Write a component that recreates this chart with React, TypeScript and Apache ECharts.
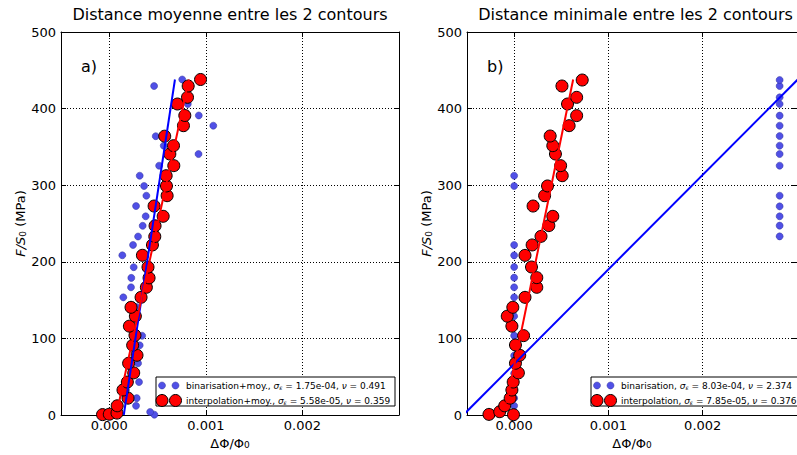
import React, { useEffect, useRef } from "react";
import * as echarts from "echarts";

const FONT = "DejaVu Sans";

// ---------- axis ranges ----------
const X_MIN = -0.0005;
const X_MAX = 0.003;
const Y_MIN = 0;
const Y_MAX = 500;
const Y_STEP = 100;

// ---------- panel a : Distance moyenne ----------
const aBinY = [0.4, 4, 12, 22, 32.6, 43, 54.4, 67.5, 77.5, 91, 103.5, 116.6, 129, 141, 153.6, 166.7, 179, 193, 208.5, 222, 233, 247, 259.4, 272.8, 286.3, 299, 312.4, 325.5, 340.7, 351.6, 364, 377.7, 391, 406, 414.7, 429.5, 438];
const aBinX = [0.000467, 0.000423, 0.000277, 0.000284, 0.00014, 0.000308, 0.00025, 0.000298, 0.00029, 0.000315, 0.00034, 0.00021, 0.00026, 0.00028, 0.000145, 0.000225, 0.000228, 0.000253, 0.000135, 0.000246, 0.000298, 0.000346, 0.000377, 0.000277, 0.000384, 0.00036, 0.000315, 0.000516, 0.000924, 0.000564, 0.000481, 0.001077, 0.000927, 0.000813, 0.0008, 0.000464, 0.000755];
const aIntY = [0.5, 1, 2.5, 12, 22, 32.6, 43, 55, 67.5, 78, 91, 104, 116, 129, 140.6, 153.6, 166.7, 179, 193, 208.5, 222, 233, 247, 259.4, 272.8, 286.3, 299, 312.4, 325.5, 340.7, 351.6, 364, 377.7, 391, 406, 414.7, 429.5, 438];
const aIntX = [-0.00007, 0.0, 0.00008, 0.000082, 0.000194, 0.000142, 0.000187, 0.000253, 0.0002, 0.000287, 0.000242, 0.000266, 0.000208, 0.00027, 0.000225, 0.000329, 0.000384, 0.000412, 0.000401, 0.000343, 0.000447, 0.000471, 0.000474, 0.000558, 0.000464, 0.000599, 0.000592, 0.000589, 0.000668, 0.000627, 0.000665, 0.000574, 0.000768, 0.000782, 0.000706, 0.00081, 0.000817, 0.000945];
const aBinFitX = [0.00015, 0.00068];
const aBinFitY = [0, 438];
const aIntFitX = [0.0001, 0.000824];
const aIntFitY = [16, 438];

// ---------- panel b : Distance minimale ----------
const bBinY = [0.4, 4, 12, 22, 32.6, 43, 54.4, 67.5, 77.5, 91, 103.6, 116.6, 129, 141, 153.6, 166.7, 179.3, 193.2, 208.4, 222, 299, 312.4, 233.2, 247.2, 259.4, 272.4, 286.3, 325.5, 340.7, 351.6, 364.2, 377.7, 390.8, 406, 414.7, 429.5, 437.3];
const bBinX = [0, 0, 0, 0, 0, 0, 0, 0, 0, 0, 0, 0, 0, 0, 0, 0, 0, 0, 0, 0, 0, 0, 0.002816, 0.002816, 0.002816, 0.002816, 0.002816, 0.002816, 0.002816, 0.002816, 0.002816, 0.002816, 0.002816, 0.002816, 0.002816, 0.002816, 0.002816];
const bIntY = [0.8, 0.4, 4.3, 12, 22, 32.6, 43, 55, 67.5, 78, 91.4, 103.6, 116, 129, 140.6, 153.6, 166.7, 179.3, 193.2, 208.4, 222, 233.2, 247.2, 259.4, 272.8, 286.3, 299, 312.4, 325.5, 340.7, 351.6, 364.2, 377.7, 390.8, 406, 414.7, 429.5, 437.3];
const bIntX = [-0.000267, -0.000007, -0.000153, -0.0001, -0.000042, -0.000024, -0.00001, 0.000045, 0.000014, 0.000059, 0.000014, 0.0001, -0.000024, -0.000073, -0.000014, 0.000115, 0.00024, 0.00024, 0.000184, 0.000115, 0.000191, 0.000285, 0.000368, 0.00041, 0.000201, 0.000323, 0.000354, 0.00051, 0.000493, 0.000438, 0.00041, 0.000382, 0.000583, 0.000663, 0.000566, 0.000663, 0.000507, 0.000722];
const bBinFitX = [-0.00054, 0.003008];
const bBinFitY = [0, 438];
const bIntFitX = [-0.00008, 0.000626];
const bIntFitY = [16, 438];

// ---------- texts ----------
const titles = ["Distance moyenne entre les 2 contours", "Distance minimale entre les 2 contours"];
const panelTags = ["a)", "b)"];
const legendA = [
  "binarisation+moy., {i|σ}{s|ε}{n| = 1.75e-04, }{i|ν}{n| = 0.491}",
  "interpolation+moy., {i|σ}{s|ε}{n| = 5.58e-05, }{i|ν}{n| = 0.359}",
];
const legendB = [
  "binarisation, {i|σ}{s|ε}{n| = 8.03e-04, }{i|ν}{n| = 2.374}",
  "interpolation, {i|σ}{s|ε}{n| = 7.85e-05, }{i|ν}{n| = 0.376}",
];

const BLUE_PT = "#5050e6";
const BLUE_EDGE = "#30309a";
const RED_PT = "#ff0000";
const LEG_FS = 9;

const zip = (xs: number[], ys: number[]) => xs.map((x, i) => [x, ys[i]]);

// layout (pixels)
const GRIDS = [
  { left: 61, top: 32, width: 338, height: 383 },
  { left: 467, top: 32, width: 337, height: 383 },
];

const legRich = {
  n: { fontSize: LEG_FS, fontFamily: FONT, fill: "#000" },
  i: { fontSize: LEG_FS, fontFamily: FONT, fontStyle: "italic", fill: "#000" },
  s: { fontSize: 6, fontFamily: FONT, fontStyle: "italic", fill: "#000", verticalAlign: "bottom" },
};

function legendGroup(x0: number, y0: number, w: number, texts: string[]) {
  const h = 29;
  const r1 = 3.5;
  const r2 = 6;
  const m1 = x0 + 6;
  const m2 = x0 + 19.5;
  const tx = x0 + 30;
  const l1 = y0 + 8.5;
  const l2 = y0 + 23.5;
  return [
    { type: "rect", z: 100, shape: { x: x0, y: y0, width: w, height: h }, style: { fill: "#fff", stroke: "#000", lineWidth: 1 } },
    { type: "circle", z: 101, shape: { cx: m1, cy: l1, r: r1 }, style: { fill: BLUE_PT, stroke: BLUE_EDGE, lineWidth: 0.5 } },
    { type: "circle", z: 101, shape: { cx: m2, cy: l1, r: r1 }, style: { fill: BLUE_PT, stroke: BLUE_EDGE, lineWidth: 0.5 } },
    { type: "circle", z: 101, shape: { cx: m1, cy: l2, r: r2 }, style: { fill: RED_PT, stroke: "#000", lineWidth: 1 } },
    { type: "circle", z: 101, shape: { cx: m2, cy: l2, r: r2 }, style: { fill: RED_PT, stroke: "#000", lineWidth: 1 } },
    { type: "text", z: 101, x: tx, y: l1, style: { text: texts[0], fontSize: LEG_FS, fontFamily: FONT, fill: "#000", verticalAlign: "middle", align: "left", rich: legRich } },
    { type: "text", z: 101, x: tx, y: l2, style: { text: texts[1], fontSize: LEG_FS, fontFamily: FONT, fill: "#000", verticalAlign: "middle", align: "left", rich: legRich } },
  ];
}

function xAxisDef(gridIndex: number, position: "bottom" | "top") {
  const main = position === "bottom";
  return {
    type: "value",
    gridIndex,
    position,
    min: X_MIN,
    max: X_MAX,
    splitNumber: 4,
    axisLine: { show: true, onZero: false, lineStyle: { color: "#000", width: 1 } },
    axisTick: { show: true, inside: true, length: 5, lineStyle: { color: "#000", width: 1 } },
    axisLabel: {
      show: main,
      showMinLabel: false,
      showMaxLabel: false,
      formatter: (v: number) => v.toFixed(3),
      color: "#000",
      fontSize: 13,
      fontFamily: FONT,
      margin: 4,
    },
    splitLine: { show: main, lineStyle: { color: "#000", width: 1, type: [1, 2] } },
    name: main ? "{n|ΔΦ/Φ}{s|0}" : "",
    nameLocation: "middle",
    nameGap: 20,
    nameTextStyle: {
      color: "#000",
      fontSize: 13,
      fontFamily: FONT,
      rich: {
        n: { fontSize: 13, fontFamily: FONT, color: "#000" },
        s: { fontSize: 9, fontFamily: FONT, color: "#000", verticalAlign: "bottom" },
      },
    },
  };
}

function yAxisDef(gridIndex: number, position: "left" | "right") {
  const main = position === "left";
  return {
    type: "value",
    gridIndex,
    position,
    min: Y_MIN,
    max: Y_MAX,
    interval: Y_STEP,
    axisLine: { show: true, onZero: false, lineStyle: { color: "#000", width: 1 } },
    axisTick: { show: true, inside: true, length: 5, lineStyle: { color: "#000", width: 1 } },
    axisLabel: { show: main, color: "#000", fontSize: 13, fontFamily: FONT, margin: 5 },
    splitLine: { show: main, lineStyle: { color: "#000", width: 1, type: [1, 2] } },
    name: main ? "{i|F/S}{s|0}{n| (MPa)}" : "",
    nameLocation: "middle",
    nameRotate: 90,
    nameGap: 33,
    nameTextStyle: {
      color: "#000",
      fontSize: 13,
      fontFamily: FONT,
      rich: {
        i: { fontSize: 13, fontFamily: FONT, fontStyle: "italic", color: "#000" },
        n: { fontSize: 13, fontFamily: FONT, color: "#000" },
        s: { fontSize: 9, fontFamily: FONT, color: "#000", verticalAlign: "bottom" },
      },
    },
  };
}

function panelSeries(p: number, binX: number[], binY: number[], intX: number[], intY: number[], bfX: number[], bfY: number[], ifX: number[], ifY: number[]) {
  const xi = p * 2;
  const yi = p * 2;
  return [
    {
      type: "scatter",
      xAxisIndex: xi,
      yAxisIndex: yi,
      data: zip(binX, binY),
      symbol: "circle",
      symbolSize: 7,
      itemStyle: { color: BLUE_PT, borderColor: BLUE_EDGE, borderWidth: 0.5, opacity: 1 },
      silent: true,
    },
    {
      type: "line",
      xAxisIndex: xi,
      yAxisIndex: yi,
      data: zip(bfX, bfY),
      showSymbol: false,
      symbol: "none",
      clip: true,
      lineStyle: { color: "#0000ff", width: 2 },
      silent: true,
    },
    {
      type: "scatter",
      xAxisIndex: xi,
      yAxisIndex: yi,
      data: zip(intX, intY),
      symbol: "circle",
      symbolSize: 12,
      itemStyle: { color: RED_PT, borderColor: "#000", borderWidth: 1, opacity: 1 },
      silent: true,
    },
    {
      type: "line",
      xAxisIndex: xi,
      yAxisIndex: yi,
      data: zip(ifX, ifY),
      showSymbol: false,
      symbol: "none",
      clip: true,
      lineStyle: { color: "#ff0000", width: 2 },
      silent: true,
    },
  ];
}

export default function App() {
  const ref = useRef<HTMLDivElement>(null);

  useEffect(() => {
    if (!ref.current) return;
    const chart = echarts.init(ref.current, undefined, { renderer: "svg" });
    const option: any = {
      animation: false,
      backgroundColor: "#ffffff",
      grid: GRIDS.map((g) => ({ ...g, containLabel: false })),
      xAxis: [xAxisDef(0, "bottom"), xAxisDef(0, "top"), xAxisDef(1, "bottom"), xAxisDef(1, "top")],
      yAxis: [yAxisDef(0, "left"), yAxisDef(0, "right"), yAxisDef(1, "left"), yAxisDef(1, "right")],
      series: [
        ...panelSeries(0, aBinX, aBinY, aIntX, aIntY, aBinFitX, aBinFitY, aIntFitX, aIntFitY),
        ...panelSeries(1, bBinX, bBinY, bIntX, bIntY, bBinFitX, bBinFitY, bIntFitX, bIntFitY),
      ],
      graphic: [
        { type: "text", z: 100, x: GRIDS[0].left + GRIDS[0].width / 2, y: 14, style: { text: titles[0], fontSize: 16, fontFamily: FONT, fill: "#000", align: "center", verticalAlign: "middle" } },
        { type: "text", z: 100, x: GRIDS[1].left + GRIDS[1].width / 2, y: 14, style: { text: titles[1], fontSize: 16, fontFamily: FONT, fill: "#000", align: "center", verticalAlign: "middle" } },
        { type: "text", z: 100, x: 81, y: 66, style: { text: panelTags[0], fontSize: 16, fontFamily: FONT, fill: "#000", align: "left", verticalAlign: "middle" } },
        { type: "text", z: 100, x: 487, y: 66, style: { text: panelTags[1], fontSize: 16, fontFamily: FONT, fill: "#000", align: "left", verticalAlign: "middle" } },
        ...legendGroup(156, 377, 239, legendA),
        ...legendGroup(591, 377, 220, legendB),
      ],
    };
    chart.setOption(option);
    return () => {
      chart.dispose();
    };
  }, []);

  return (
    <div
      ref={ref}
      style={{ position: "fixed", left: 0, top: 0, width: 797, height: 455, overflow: "hidden", background: "#fff" }}
    />
  );
}
